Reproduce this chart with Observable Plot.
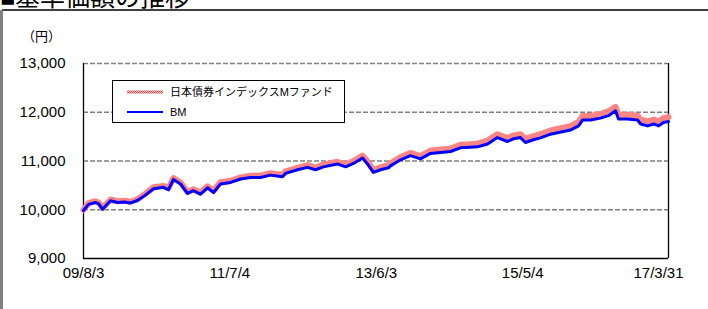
<!DOCTYPE html>
<html>
<head>
<meta charset="utf-8">
<script src="https://cdn.jsdelivr.net/npm/d3@7"></script>
<script src="https://cdn.jsdelivr.net/npm/@observablehq/plot@0.6"></script>
<style>
  html, body { margin: 0; padding: 0; background: #fff; }
  #chart { position: relative; width: 708px; height: 309px; overflow: hidden; }
</style>
</head>
<body>
<div id="chart"></div>
<script>
// ---- data ----
const dates = [
  "2009-08-03","2009-08-27","2009-09-29","2009-10-15","2009-11-02","2009-12-10",
  "2010-01-13","2010-02-15","2010-03-16","2010-04-18","2010-05-26","2010-07-04",
  "2010-08-20","2010-09-13","2010-10-07","2010-11-10","2010-12-13","2011-01-11",
  "2011-02-13","2011-03-19","2011-04-17","2011-05-20","2011-07-07","2011-08-24",
  "2011-10-10","2011-11-27","2012-01-14","2012-03-11","2012-03-26","2012-05-22",
  "2012-07-09","2012-08-16","2012-09-23","2012-11-29","2013-01-07","2013-02-14",
  "2013-03-29","2013-04-22","2013-05-20","2013-06-23","2013-07-31","2013-08-10",
  "2013-09-27","2013-11-13","2013-12-31","2014-02-17","2014-04-06","2014-05-24",
  "2014-07-10","2014-08-27","2014-09-30","2014-11-17","2015-01-03","2015-02-20",
  "2015-03-21","2015-04-23","2015-05-17","2015-06-24","2015-07-28","2015-09-14",
  "2015-12-18","2016-01-26","2016-02-14","2016-03-23","2016-05-10","2016-06-17",
  "2016-07-21","2016-08-04","2016-09-16","2016-11-03","2016-11-18","2016-12-21",
  "2017-01-19","2017-02-12","2017-03-07","2017-03-31"
];
const bm = [
  9985,10110,10150,10120,10010,10185,
  10150,10160,10140,10190,10300,10430,
  10460,10410,10620,10530,10335,10390,
  10320,10450,10355,10530,10560,10630,
  10660,10660,10710,10675,10745,10820,
  10870,10820,10880,10940,10880,10950,
  11060,10940,10765,10820,10860,10900,
  11025,11110,11045,11155,11175,11195,
  11270,11280,11290,11350,11480,11400,
  11455,11480,11380,11435,11475,11550,
  11635,11720,11840,11840,11880,11930,
  12030,11860,11860,11840,11760,11720,
  11760,11720,11790,11810
];
const fund = [
  10000,10135,10175,10145,10035,10210,
  10175,10185,10165,10215,10330,10460,
  10490,10440,10650,10560,10365,10420,
  10350,10480,10390,10565,10595,10665,
  10700,10700,10750,10715,10785,10860,
  10915,10865,10925,10985,10925,11000,
  11110,10990,10815,10870,10915,10955,
  11080,11165,11100,11215,11235,11255,
  11335,11345,11355,11420,11550,11470,
  11525,11550,11455,11510,11550,11625,
  11715,11800,11925,11925,11965,12020,
  12110,11950,11950,11930,11850,11810,
  11850,11810,11880,11900
];
const xTickLabels = ["2009-08-03","2011-07-04","2013-06-03","2015-05-04","2017-03-31"];
const yTicks = [9000, 10000, 11000, 12000, 13000];
const gridValues = [10000, 11000, 12000, 13000];
const seriesNames = ["日本債券インデックスMファンド", "BM"];
const titleText = "■基準価額の推移";
const unitText = "（円）";

// ---- build ----
const parse = d3.utcParse("%Y-%m-%d");
const rows = dates.map((d, i) => ({date: parse(d), bm: bm[i], fund: fund[i]}));
const xStart = parse(dates[0]), xEnd = parse(dates[dates.length - 1]);
const tickDates = xTickLabels.map(parse);
const fmtDate = d3.utcFormat("%y/%-m/%-d");
const fmtNum = d3.format(",");
const FONT = "'Liberation Sans', Arial, 'Noto Sans CJK JP', sans-serif";

const chart = Plot.plot({
  width: 708,
  height: 309,
  marginLeft: 83,
  marginRight: 40,
  marginTop: 63,
  marginBottom: 51,
  style: {fontFamily: FONT, fontSize: "15px", color: "#000", background: "#fff", overflow: "hidden"},
  x: {type: "utc", domain: [xStart, xEnd], axis: null},
  y: {domain: [9000, 13000], axis: null},
  marks: [
    Plot.ruleY(gridValues, {stroke: "#808080", strokeWidth: 1.5, strokeDasharray: "5,2"}),
    Plot.ruleY([9000], {stroke: "#000", strokeWidth: 1.3}),
    Plot.ruleX([xStart], {stroke: "#000", strokeWidth: 1.3}),
    Plot.ruleX([xEnd], {stroke: "#000", strokeWidth: 1.3}),
    Plot.line(rows, {x: "date", y: "fund", stroke: "url(#chk)", strokeWidth: 6, strokeLinejoin: "round"}),
    Plot.line(rows, {x: "date", y: "bm", stroke: "#0000ff", strokeWidth: 3, strokeLinejoin: "round"}),
    Plot.text(yTicks, {y: d => d, frameAnchor: "left", dx: -18, textAnchor: "end", text: d => fmtNum(d), fontSize: 15, fill: "#000"}),
    Plot.text(tickDates.slice(0, -1), {x: d => d, frameAnchor: "bottom", dy: 19, text: d => fmtDate(d), fontSize: 15, fill: "#000"}),
    Plot.text(tickDates.slice(-1), {x: d => d, frameAnchor: "bottom", dy: 19, dx: -10, text: d => fmtDate(d), fontSize: 15, fill: "#000"})
  ]
});

const svg = d3.select(chart);
// checkered stroke pattern for the fund line
const pat = svg.insert("defs", ":first-child").append("pattern")
  .attr("id", "chk").attr("patternUnits", "userSpaceOnUse")
  .attr("width", 2).attr("height", 2);
pat.append("rect").attr("width", 2).attr("height", 2).attr("fill", "#ffd8d8");
pat.append("rect").attr("width", 1).attr("height", 1).attr("fill", "#ff3030");
pat.append("rect").attr("x", 1).attr("y", 1).attr("width", 1).attr("height", 1).attr("fill", "#ff3030");

// outer frame
const deco = svg.append("g").attr("font-family", FONT).attr("text-anchor", "start");
deco.append("line").attr("x1", 2).attr("x2", 708).attr("y1", 10).attr("y2", 10)
  .attr("stroke", "#000").attr("stroke-width", 1.5);
deco.append("line").attr("x1", 1.5).attr("x2", 1.5).attr("y1", 10).attr("y2", 309)
  .attr("stroke", "#808080").attr("stroke-width", 3);
// title (mostly above the visible area, as in the reference)
deco.append("text").attr("x", 0).attr("y", 6).attr("font-size", 25).attr("fill", "#000")
  .attr("text-anchor", "start").text(titleText);
// unit label
deco.append("text").attr("x", 22).attr("y", 36).attr("dy", "0.35em").attr("font-size", 13)
  .attr("fill", "#000").attr("text-anchor", "start").text(unitText);

// legend
const lg = deco.append("g");
lg.append("rect").attr("x", 112.5).attr("y", 80.5).attr("width", 232).attr("height", 42)
  .attr("fill", "#fff").attr("stroke", "#000").attr("stroke-width", 1);
lg.append("line").attr("x1", 127).attr("x2", 163).attr("y1", 92).attr("y2", 92)
  .attr("stroke", "url(#chk)").attr("stroke-width", 3);
lg.append("line").attr("x1", 127).attr("x2", 163).attr("y1", 112).attr("y2", 112)
  .attr("stroke", "#0000ff").attr("stroke-width", 2);
lg.append("text").attr("x", 170).attr("y", 92).attr("dy", "0.35em").attr("font-size", 11)
  .attr("fill", "#000").attr("text-anchor", "start").text(seriesNames[0]);
lg.append("text").attr("x", 170).attr("y", 112).attr("dy", "0.35em").attr("font-size", 11)
  .attr("fill", "#000").attr("text-anchor", "start").text(seriesNames[1]);

document.getElementById("chart").appendChild(chart);
</script>
</body>
</html>
